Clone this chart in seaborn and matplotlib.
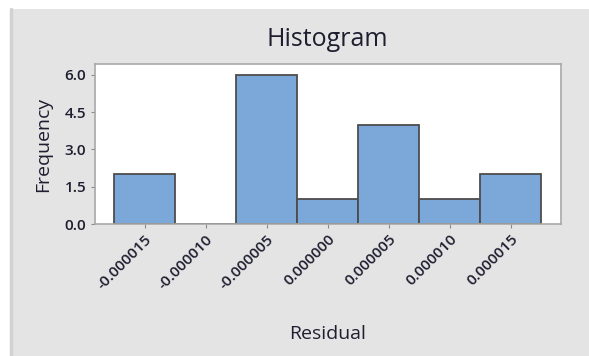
import matplotlib
matplotlib.use("Agg")
import matplotlib.pyplot as plt
from matplotlib.patches import Rectangle
from matplotlib.lines import Line2D
import pandas as pd
import seaborn as sns

# Residual histogram: bin centres and their frequencies
bin_centers = [-0.000015, -0.000010, -0.000005, 0.0, 0.000005, 0.000010, 0.000015]
counts = [2, 0, 6, 1, 4, 1, 2]
bin_width = 0.000005
y_ticks = [0.0, 1.5, 3.0, 4.5, 6.0]

df = pd.DataFrame({"Residual": bin_centers, "Frequency": counts})
bin_range = (bin_centers[0] - bin_width / 2, bin_centers[-1] + bin_width / 2)

sns.set_theme(style="white")
plt.rcParams["font.family"] = ["Open Sans", "DejaVu Sans"]

W, H = 589, 356
fig = plt.figure(figsize=(W / 100, H / 100), dpi=100, facecolor="white")
txt = "#1e1e30"

# grey panel behind the chart
fig.patches.append(Rectangle((10 / W, 0), 1 - 10 / W, (H - 9) / H,
                             transform=fig.transFigure, facecolor="#e4e4e4",
                             edgecolor="none", zorder=-5))
fig.lines.append(Line2D([11 / W, 11 / W], [0, (H - 9) / H],
                        transform=fig.transFigure, color="#d2d2d2", lw=2.5, zorder=-4))

ax = fig.add_axes([94.7 / W, (H - 224) / H, (560.7 - 94.7) / W, (224 - 64.5) / H])
ax.set_zorder(5)
ax.set_facecolor("white")

sns.histplot(data=df, x="Residual", weights="Frequency", bins=len(bin_centers),
             binrange=bin_range, ax=ax,
             color="#7ba7d9", alpha=1.0, edgecolor="#4d4d4d", linewidth=1.3)

ax.set_xlim(-0.0000191, 0.0000191)
ax.set_ylim(0, 6.42)
ax.set_xticks(bin_centers)
ax.set_xticklabels([f"{v:.6f}" for v in bin_centers], rotation=45, ha="right",
                   rotation_mode="anchor", fontsize=11, color=txt,
                   fontweight="semibold")
ax.set_yticks(y_ticks)
ax.set_yticklabels([f"{v:.1f}" for v in y_ticks], fontsize=11, color=txt,
                   fontweight="semibold")
ax.tick_params(axis="both", which="both", direction="out", length=3, width=0.8,
               color="#8a8a8a", pad=3, bottom=True, left=True)

for s in ax.spines.values():
    s.set_color("#a8a8a8")
    s.set_linewidth(1.2)

ax.set_xlabel("Residual", fontsize=14, color=txt, labelpad=24)
ax.set_ylabel("Frequency", fontsize=14, color=txt, labelpad=9)
fig.text(327 / W, 1 - 40 / H, "Histogram", ha="center", va="center",
         fontsize=18, color=txt)

fig.savefig("out.png", dpi=100, facecolor=fig.get_facecolor())
